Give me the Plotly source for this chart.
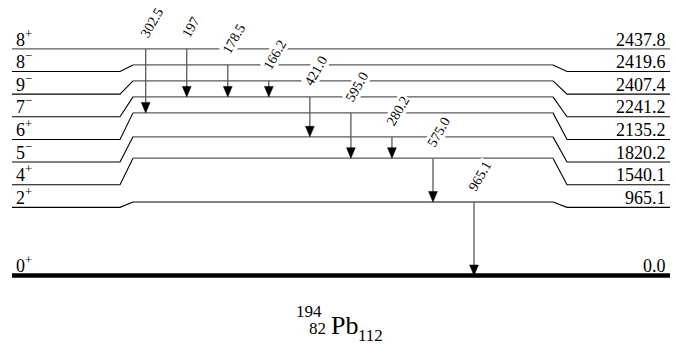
import plotly.graph_objects as go

# ---------------- data ----------------
spin_labels = ["0<sup>+</sup>", "2<sup>+</sup>", "4<sup>+</sup>", "5<sup>−</sup>", "6<sup>+</sup>",
               "7<sup>−</sup>", "9<sup>−</sup>", "8<sup>−</sup>", "8<sup>+</sup>"]
level_energies = [0.0, 965.1, 1540.1, 1820.2, 2135.2, 2241.2, 2407.4, 2419.6, 2437.8]
energy_labels = ["0.0", "965.1", "1540.1", "1820.2", "2135.2", "2241.2", "2407.4", "2419.6", "2437.8"]

gamma_labels = ["302.5", "197", "178.5", "166.2", "421.0", "595.0", "280.2", "575.0", "965.1"]
gamma_from = [8, 8, 7, 6, 5, 4, 3, 2, 1]   # index of initial level
gamma_to = [4, 5, 5, 5, 3, 2, 2, 1, 0]     # index of final level

# ---------------- layout / style constants ----------------
W, H = 676, 354
GROUND_PX = 275.5          # pixel row of ground state
K = 0.07616                # px per keV
MIN_GAP = 210.0            # minimal drawn spacing between levels (keV units)
ROW_BOTTOM = 895.0         # drawn height of lowest outer label row (keV units)
X_LEFT, X_BL0, X_BL1 = 12, 120, 133
X_BR0, X_BR1, X_RIGHT = 553, 567, 670
GAMMA_X0, GAMMA_DX = 145.7, 41.04
HEAD_H = 10.5 / K
HEAD_HW = 4.4
FONT = "Liberation Serif, Times New Roman, serif"
INNER_COL = "#5a5a5a"
LAB_FS = 18
GAM_FS = 14

y_lo = (GROUND_PX - H) / K
y_hi = GROUND_PX / K

# drawn level heights (spread where levels crowd)
drawn = []
for i, e in enumerate(level_energies):
    drawn.append(e if i == 0 else max(e, drawn[-1] + MIN_GAP))
n = len(level_energies)
rows = [0.0] + [ROW_BOTTOM + (drawn[-1] - ROW_BOTTOM) * (i - 1) / (n - 2) for i in range(1, n)]

fig = go.Figure()

# ground state
fig.add_trace(go.Scatter(x=[X_LEFT, X_RIGHT], y=[0, 0], mode="lines",
                         line=dict(color="black", width=4.6), hoverinfo="skip"))

for i in range(1, n):
    d, r = drawn[i], rows[i]
    if i == n - 1:
        fig.add_trace(go.Scatter(x=[X_LEFT, X_RIGHT], y=[d, d], mode="lines",
                                 line=dict(color=INNER_COL, width=1.3), hoverinfo="skip"))
        continue
    # outer parts (black)
    fig.add_trace(go.Scatter(x=[X_LEFT, X_BL0, X_BL1, None, X_BR0, X_BR1, X_RIGHT],
                             y=[r, r, d, None, d, r, r], mode="lines",
                             line=dict(color="black", width=1.1), hoverinfo="skip"))
    # inner part (gray)
    fig.add_trace(go.Scatter(x=[X_BL1, X_BR0], y=[d, d], mode="lines",
                             line=dict(color=INNER_COL, width=1.3), hoverinfo="skip"))

annotations = []
for j, lab in enumerate(gamma_labels):
    gx = GAMMA_X0 + GAMMA_DX * j
    y0, y1 = drawn[gamma_from[j]], drawn[gamma_to[j]]
    fig.add_trace(go.Scatter(x=[gx, gx], y=[y0, y1 + HEAD_H * 0.9], mode="lines",
                             line=dict(color=INNER_COL, width=1.3), hoverinfo="skip"))
    fig.add_trace(go.Scatter(x=[gx - HEAD_HW, gx + HEAD_HW, gx, gx - HEAD_HW],
                             y=[y1 + HEAD_H, y1 + HEAD_H, y1, y1 + HEAD_H],
                             mode="lines", fill="toself", fillcolor="black",
                             line=dict(color="black", width=0.5), hoverinfo="skip"))
    L = sum(0.25 * GAM_FS if c == "." else 0.5 * GAM_FS for c in lab)
    annotations.append(dict(x=gx, y=y0, xref="x", yref="y", text=lab, showarrow=False,
                            textangle=-60, xanchor="center", yanchor="middle",
                            xshift=L / 2 * 0.5 - 1.5, yshift=12.8 + L / 2 * 0.866,
                            bgcolor="white", borderpad=0,
                            font=dict(family=FONT, size=GAM_FS, color="black")))

for i in range(n):
    annotations.append(dict(x=X_LEFT + 2, y=rows[i], xref="x", yref="y", text=spin_labels[i],
                            showarrow=False, xanchor="left", yanchor="bottom", yshift=-2.6,
                            font=dict(family=FONT, size=LAB_FS, color="black")))
    annotations.append(dict(x=X_RIGHT - 2, y=rows[i], xref="x", yref="y", text=energy_labels[i],
                            showarrow=False, xanchor="right", yanchor="bottom", yshift=-2.6,
                            font=dict(family=FONT, size=LAB_FS, color="black")))

# nucleus label  194/82 Pb 112
def px(xp):
    return xp / W

def py(yp):
    return 1 - yp / H

annotations += [
    dict(x=px(324), y=py(322.5), xref="paper", yref="paper", text="194", showarrow=False,
         xanchor="right", yanchor="bottom", font=dict(family=FONT, size=17, color="black")),
    dict(x=px(328), y=py(339.5), xref="paper", yref="paper", text="82", showarrow=False,
         xanchor="right", yanchor="bottom", font=dict(family=FONT, size=17, color="black")),
    dict(x=px(329), y=py(341.6), xref="paper", yref="paper", text="Pb", showarrow=False,
         xanchor="left", yanchor="bottom", font=dict(family=FONT, size=26, color="black")),
    dict(x=px(356), y=py(346.5), xref="paper", yref="paper", text="112", showarrow=False,
         xanchor="left", yanchor="bottom", font=dict(family=FONT, size=17, color="black")),
]

fig.update_layout(
    width=W, height=H, margin=dict(l=0, r=0, t=0, b=0),
    paper_bgcolor="white", plot_bgcolor="white", showlegend=False,
    xaxis=dict(range=[0, W], visible=False, fixedrange=True),
    yaxis=dict(range=[y_lo, y_hi], visible=False, fixedrange=True),
    annotations=annotations,
)

fig.write_html("out.html", config={"displayModeBar": False},
               post_script="document.body.style.margin='0px';")
